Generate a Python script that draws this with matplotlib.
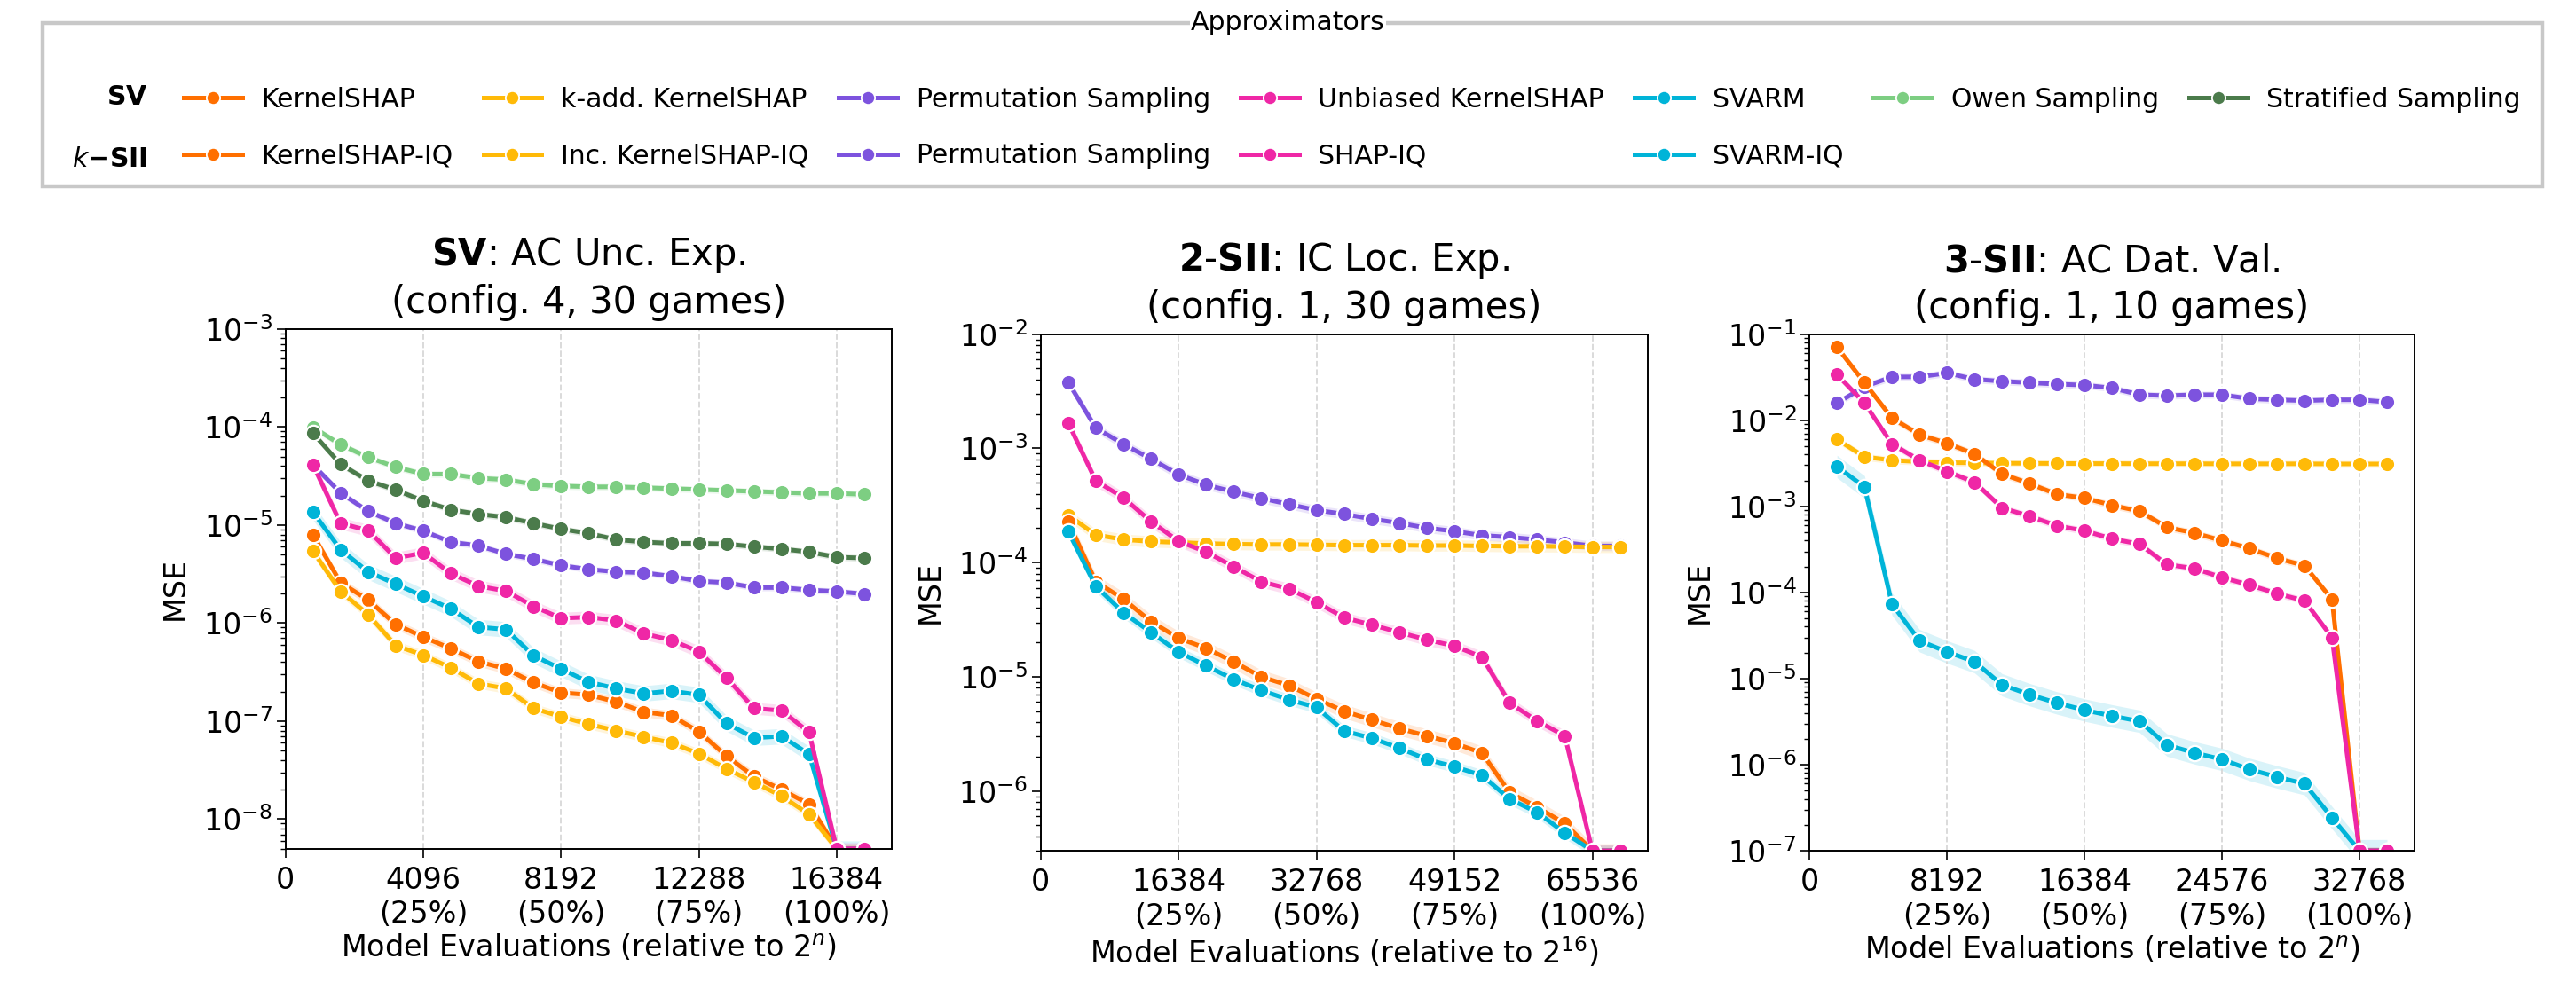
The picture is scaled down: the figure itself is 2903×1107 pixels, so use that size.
# -*- coding: utf-8 -*-
"""
Approximator benchmark: MSE vs. model evaluations for SV, 2-SII and 3-SII.
"""

import matplotlib.pyplot as plt
import numpy as np
from matplotlib.lines import Line2D
from matplotlib.patches import Rectangle
from matplotlib.ticker import LogLocator, NullFormatter, NullLocator

# =============================================================================
# DATA
# =============================================================================

# budget in percent of 2^n (21 steps, last one is 105%)
budget_pct = [5, 10, 15, 20, 25, 30, 35, 40, 45, 50, 55, 60, 65, 70, 75,
              80, 85, 90, 95, 100, 105]

# SV: AC Unc. Exp. (config. 4, 30 games), 2^n = 16384
sv_n = 16384
sv_kernelshap = [7.9e-6, 2.58e-6, 1.72e-6, 9.7e-7, 7.2e-7, 5.5e-7, 4.05e-7,
                 3.41e-7, 2.47e-7, 1.95e-7, 1.85e-7, 1.57e-7, 1.24e-7, 1.14e-7,
                 7.8e-8, 4.4e-8, 2.73e-8, 2.0e-8, 1.42e-8, 5e-9, 5e-9]
sv_kadd = [5.4e-6, 2.1e-6, 1.22e-6, 5.9e-7, 4.7e-7, 3.5e-7, 2.41e-7, 2.15e-7,
           1.35e-7, 1.11e-7, 9.3e-8, 8.0e-8, 6.9e-8, 6.0e-8, 4.66e-8, 3.26e-8,
           2.38e-8, 1.72e-8, 1.12e-8, 5e-9, 5e-9]
sv_perm = [4.1e-5, 2.12e-5, 1.38e-5, 1.04e-5, 8.7e-6, 6.7e-6, 6.15e-6, 5.06e-6,
           4.5e-6, 3.87e-6, 3.53e-6, 3.33e-6, 3.26e-6, 3.0e-6, 2.67e-6, 2.58e-6,
           2.3e-6, 2.3e-6, 2.17e-6, 2.1e-6, 1.98e-6]
sv_unbiased = [4.1e-5, 1.04e-5, 8.8e-6, 4.6e-6, 5.2e-6, 3.2e-6, 2.38e-6,
               2.12e-6, 1.48e-6, 1.12e-6, 1.15e-6, 1.06e-6, 7.8e-7, 6.7e-7,
               5.1e-7, 2.77e-7, 1.35e-7, 1.28e-7, 7.7e-8, 5e-9, 5e-9]
sv_svarm = [1.35e-5, 5.6e-6, 3.33e-6, 2.5e-6, 1.87e-6, 1.4e-6, 9.1e-7, 8.6e-7,
            4.66e-7, 3.41e-7, 2.5e-7, 2.15e-7, 1.91e-7, 2.03e-7, 1.85e-7,
            9.5e-8, 6.75e-8, 7.0e-8, 4.6e-8, 5e-9, 5e-9]
sv_owen = [9.9e-5, 6.6e-5, 4.9e-5, 3.9e-5, 3.3e-5, 3.3e-5, 3.0e-5, 2.9e-5,
           2.6e-5, 2.5e-5, 2.45e-5, 2.45e-5, 2.4e-5, 2.35e-5, 2.3e-5, 2.25e-5,
           2.2e-5, 2.15e-5, 2.1e-5, 2.1e-5, 2.05e-5]
sv_strat = [8.6e-5, 4.15e-5, 2.83e-5, 2.28e-5, 1.76e-5, 1.43e-5, 1.29e-5,
            1.20e-5, 1.04e-5, 9.1e-6, 8.2e-6, 7.1e-6, 6.7e-6, 6.5e-6, 6.5e-6,
            6.4e-6, 6.0e-6, 5.7e-6, 5.3e-6, 4.7e-6, 4.6e-6]

# 2-SII: IC Loc. Exp. (config. 1, 30 games), 2^16 = 65536
sii2_n = 65536
sii2_kernelshapiq = [2.29e-4, 6.8e-5, 4.8e-5, 3.05e-5, 2.18e-5, 1.78e-5,
                     1.35e-5, 1.0e-5, 8.4e-6, 6.4e-6, 5.0e-6, 4.2e-6, 3.53e-6,
                     3.04e-6, 2.62e-6, 2.15e-6, 9.7e-7, 7.2e-7, 5.2e-7, 3e-7,
                     3e-7]
sii2_inc = [2.6e-4, 1.75e-4, 1.59e-4, 1.53e-4, 1.5e-4, 1.47e-4, 1.45e-4,
            1.44e-4, 1.44e-4, 1.43e-4, 1.42e-4, 1.42e-4, 1.42e-4, 1.41e-4,
            1.41e-4, 1.40e-4, 1.39e-4, 1.39e-4, 1.38e-4, 1.37e-4, 1.37e-4]
sii2_perm = [3.8e-3, 1.51e-3, 1.09e-3, 8.1e-4, 5.9e-4, 4.8e-4, 4.16e-4,
             3.66e-4, 3.24e-4, 2.88e-4, 2.66e-4, 2.41e-4, 2.22e-4, 2.01e-4,
             1.88e-4, 1.73e-4, 1.67e-4, 1.59e-4, 1.5e-4, 1.4e-4, 1.4e-4]
sii2_shapiq = [1.67e-3, 5.2e-4, 3.7e-4, 2.29e-4, 1.54e-4, 1.24e-4, 9.2e-5,
               6.8e-5, 5.9e-5, 4.5e-5, 3.3e-5, 2.85e-5, 2.45e-5, 2.11e-5,
               1.86e-5, 1.49e-5, 5.9e-6, 4.1e-6, 3.04e-6, 3e-7, 3e-7]
sii2_svarmiq = [1.88e-4, 6.2e-5, 3.65e-5, 2.45e-5, 1.65e-5, 1.25e-5, 9.5e-6,
                7.6e-6, 6.3e-6, 5.4e-6, 3.36e-6, 2.9e-6, 2.38e-6, 1.89e-6,
                1.63e-6, 1.37e-6, 8.5e-7, 6.5e-7, 4.3e-7, 3e-7, 3e-7]

# 3-SII: AC Dat. Val. (config. 1, 10 games), 2^n = 32768
sii3_n = 32768
sii3_kernelshapiq = [7.05e-2, 2.73e-2, 1.06e-2, 6.8e-3, 5.4e-3, 4.06e-3,
                     2.38e-3, 1.84e-3, 1.38e-3, 1.25e-3, 1.03e-3, 8.8e-4,
                     5.7e-4, 4.9e-4, 4.0e-4, 3.24e-4, 2.5e-4, 2.05e-4, 8.3e-5,
                     1e-7, 1e-7]
sii3_inc = [6.0e-3, 3.76e-3, 3.43e-3, 3.3e-3, 3.22e-3, 3.2e-3, 3.17e-3,
            3.16e-3, 3.15e-3, 3.14e-3, 3.14e-3, 3.13e-3, 3.13e-3, 3.13e-3,
            3.12e-3, 3.12e-3, 3.12e-3, 3.12e-3, 3.11e-3, 3.11e-3, 3.11e-3]
sii3_perm = [1.58e-2, 2.46e-2, 3.19e-2, 3.19e-2, 3.54e-2, 2.99e-2, 2.84e-2,
             2.73e-2, 2.63e-2, 2.56e-2, 2.37e-2, 1.98e-2, 1.93e-2, 1.98e-2,
             1.98e-2, 1.78e-2, 1.73e-2, 1.69e-2, 1.73e-2, 1.73e-2, 1.63e-2]
sii3_shapiq = [3.4e-2, 1.58e-2, 5.3e-3, 3.43e-3, 2.54e-3, 1.91e-3, 9.6e-4,
               7.7e-4, 5.95e-4, 5.2e-4, 4.2e-4, 3.64e-4, 2.11e-4, 1.9e-4,
               1.49e-4, 1.22e-4, 9.7e-5, 8.0e-5, 3.0e-5, 1e-7, 1e-7]
sii3_svarmiq = [2.9e-3, 1.68e-3, 7.3e-5, 2.75e-5, 2.04e-5, 1.57e-5, 8.45e-6,
                6.5e-6, 5.2e-6, 4.3e-6, 3.68e-6, 3.19e-6, 1.69e-6, 1.37e-6,
                1.15e-6, 8.8e-7, 7.2e-7, 6.0e-7, 2.42e-7, 1e-7, 1e-7]

# =============================================================================
# STYLE
# =============================================================================

COLORS = {
    'KernelSHAP': '#ff6f00',
    'kADD': '#ffba08',
    'Perm': '#7d53de',
    'SHAPIQ': '#ef27a6',
    'SVARM': '#00b4d8',
    'Owen': '#7dce82',
    'Strat': '#4b7b4b',
}

W, H = 2903, 1107
FS_TICK = 24
FS_LABEL = 24
FS_TITLE = 30
FS_LEG = 21.5

plt.rcParams['font.family'] = 'DejaVu Sans'

fig = plt.figure(figsize=(W / 100, H / 100), dpi=100)


def px_axes(left, top, right, bottom):
    # axes from pixel box of the reference
    return fig.add_axes([left / W, 1 - bottom / H, (right - left) / W,
                         (bottom - top) / H])


def draw(ax, n, series, ylim, xticks, title, xlabel):
    x = np.array(budget_pct) / 100 * n
    for y, key, spread in series:
        y = np.array(y)
        ax.fill_between(x, y / spread, y * spread, color=COLORS[key],
                        alpha=0.15, lw=0)
        ax.plot(x, y, '-o', color=COLORS[key], lw=3.6, ms=12.5,
                mec='white', mew=1.6)
    ax.set_yscale('log')
    ax.set_ylim(ylim)
    ax.set_xlim(0, 1.1 * n)
    ax.yaxis.set_major_locator(LogLocator(base=10, numticks=20))
    ax.yaxis.set_minor_locator(LogLocator(base=10, subs=np.arange(2, 10),
                                          numticks=100))
    ax.yaxis.set_minor_formatter(NullFormatter())
    ax.xaxis.set_minor_locator(NullLocator())
    ax.set_xticks(xticks)
    ax.set_xticklabels(['0'] + ['%d\n(%d%%)' % (t, round(100 * t / n))
                                for t in xticks[1:]])
    ax.grid(axis='x', ls='--', color='#d8d8d8', lw=1.3)
    ax.tick_params(labelsize=FS_TICK, width=1.2, length=7)
    ax.tick_params(axis='x', pad=7)
    ax.tick_params(which='minor', width=1.0, length=4)
    for s in ax.spines.values():
        s.set_linewidth(1.4)
    ax.set_ylabel('MSE', fontsize=FS_LABEL, labelpad=11)
    ax.set_xlabel(xlabel, fontsize=FS_LABEL, labelpad=3)
    ax.set_title(title, fontsize=FS_TITLE, pad=13, linespacing=1.3)


ax1 = px_axes(321.7, 370.7, 1005, 956.7)
draw(ax1, sv_n,
     [(sv_owen, 'Owen', 1.08), (sv_strat, 'Strat', 1.08),
      (sv_perm, 'Perm', 1.08), (sv_kernelshap, 'KernelSHAP', 1.12),
      (sv_kadd, 'kADD', 1.12), (sv_svarm, 'SVARM', 1.2),
      (sv_unbiased, 'SHAPIQ', 1.15)],
     (5e-9, 1e-3), [0, 4096, 8192, 12288, 16384],
     '$\\bf{SV}$: AC Unc. Exp.\n(config. 4, 30 games)',
     'Model Evaluations (relative to $2^n$)')

ax2 = px_axes(1172.7, 376.7, 1856.7, 959)
draw(ax2, sii2_n,
     [(sii2_perm, 'Perm', 1.1), (sii2_inc, 'kADD', 1.12),
      (sii2_kernelshapiq, 'KernelSHAP', 1.15), (sii2_svarmiq, 'SVARM', 1.12),
      (sii2_shapiq, 'SHAPIQ', 1.12)],
     (3e-7, 1e-2), [0, 16384, 32768, 49152, 65536],
     '$\\bf{2}$-$\\bf{SII}$: IC Loc. Exp.\n(config. 1, 30 games)',
     'Model Evaluations (relative to $2^{16}$)')

ax3 = px_axes(2039.2, 376.7, 2721, 959)
draw(ax3, sii3_n,
     [(sii3_perm, 'Perm', 1.1), (sii3_inc, 'kADD', 1.1),
      (sii3_kernelshapiq, 'KernelSHAP', 1.1), (sii3_svarmiq, 'SVARM', 1.35),
      (sii3_shapiq, 'SHAPIQ', 1.1)],
     (1e-7, 1e-1), [0, 8192, 16384, 24576, 32768],
     '$\\bf{3}$-$\\bf{SII}$: AC Dat. Val.\n(config. 1, 10 games)',
     'Model Evaluations (relative to $2^n$)')

# =============================================================================
# LEGEND
# =============================================================================


def handle(key):
    return Line2D([], [], color=COLORS[key], marker='o', lw=3.6, ms=11,
                  mec='white', mew=1.3)


blank = Line2D([], [], alpha=0)
handles = [handle('KernelSHAP'), handle('KernelSHAP'),
           handle('kADD'), handle('kADD'),
           handle('Perm'), handle('Perm'),
           handle('SHAPIQ'), handle('SHAPIQ'),
           handle('SVARM'), handle('SVARM'),
           handle('Owen'), blank,
           handle('Strat'), blank]
labels = ['KernelSHAP', 'KernelSHAP-IQ',
          'k-add. KernelSHAP', 'Inc. KernelSHAP-IQ',
          'Permutation Sampling', 'Permutation Sampling',
          'Unbiased KernelSHAP', 'SHAP-IQ',
          'SVARM', 'SVARM-IQ',
          'Owen Sampling', '',
          'Stratified Sampling', '']
fig.legend(handles, labels, ncol=7, loc='center left',
           bbox_to_anchor=(192 / W, 1 - 144 / H), frameon=False,
           fontsize=FS_LEG, handlelength=2.2, handletextpad=0.72,
           columnspacing=1.15, labelspacing=1.15, borderpad=0)

fig.text(166 / W, 1 - 109 / H, '$\\bf{SV}$', ha='right', va='center',
         fontsize=FS_LEG)
fig.text(166 / W, 1 - 179 / H, '$k\\bf{-SII}$', ha='right', va='center',
         fontsize=FS_LEG)

frame_top, frame_bottom = 26, 210
fig.add_artist(Rectangle((48 / W, 1 - frame_bottom / H), (2865 - 48) / W,
                         (frame_bottom - frame_top) / H,
                         transform=fig.transFigure, fill=False,
                         ec='#c8c8c8', lw=3.2))
fig.text(0.5, 1 - frame_top / H, 'Approximators', ha='center', va='center',
         fontsize=FS_LEG,
         bbox=dict(fc='white', ec='none', pad=1))

fig.savefig('out.png', dpi=100)
